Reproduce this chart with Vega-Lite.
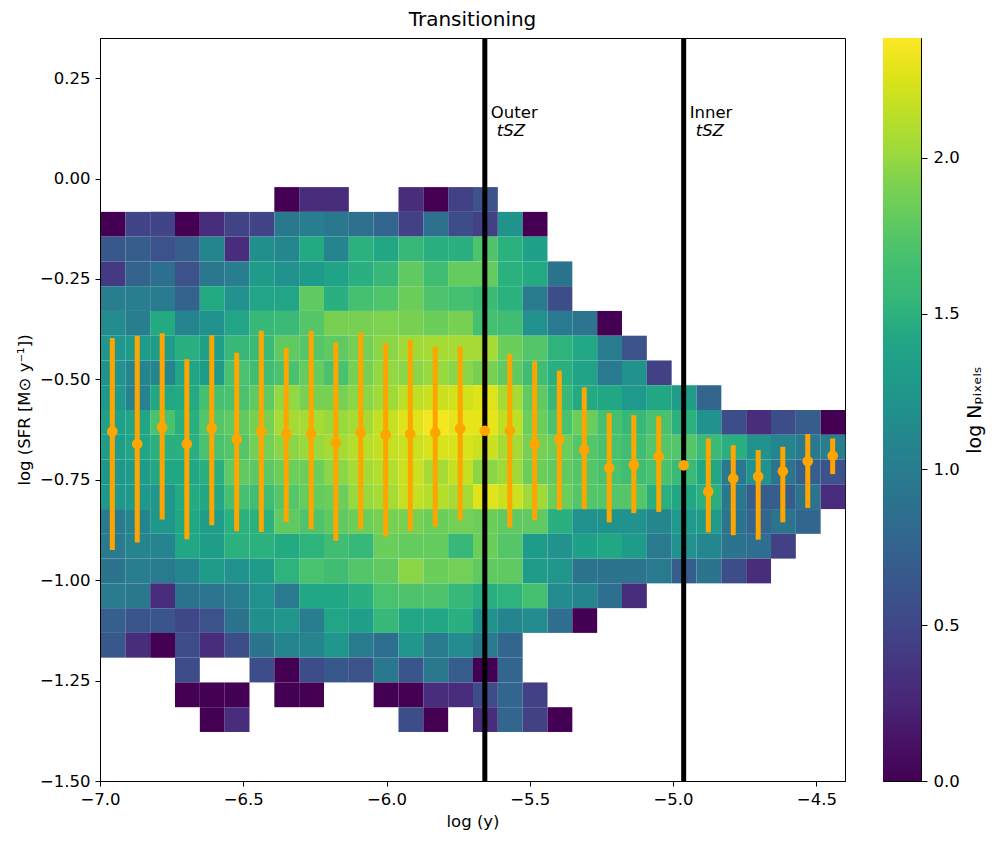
{
"$schema": "https://vega.github.io/schema/vega-lite/v6.json",
"padding": {"left": 15, "top": 9, "right": 5, "bottom": 5},
"config": {
 "font": "DejaVu Sans",
 "view": {"stroke": "black", "strokeWidth": 1},
 "axis": {"labelFont": "DejaVu Sans", "titleFont": "DejaVu Sans", "labelFontSize": 16.5, "titleFontSize": 16.5, "labelColor": "black", "titleColor": "black", "titleFontWeight": "normal", "tickColor": "black", "domainColor": "black", "tickSize": 5, "grid": false, "labelPadding": 5, "labelFlush": false},
 "title": {"font": "DejaVu Sans", "fontSize": 20, "fontWeight": "normal", "color": "black"}
},
"datasets": {
 "heat": [
{"ly":-6.350,"ls":-0.051,"v":0},{"ly":-6.263,"ls":-0.051,"v":0.3},{"ly":-6.177,"ls":-0.051,"v":0.3},{"ly":-5.917,"ls":-0.051,"v":0.3},{"ly":-5.830,"ls":-0.051,"v":0},{"ly":-5.743,"ls":-0.051,"v":0.45},{"ly":-5.657,"ls":-0.051,"v":0.6},
{"ly":-6.957,"ls":-0.113,"v":0},{"ly":-6.870,"ls":-0.113,"v":0.48},{"ly":-6.783,"ls":-0.113,"v":0.48},{"ly":-6.697,"ls":-0.113,"v":0},{"ly":-6.610,"ls":-0.113,"v":0.3},{"ly":-6.523,"ls":-0.113,"v":0.48},{"ly":-6.437,"ls":-0.113,"v":0.48},{"ly":-6.350,"ls":-0.113,"v":0.95},{"ly":-6.263,"ls":-0.113,"v":1.0},{"ly":-6.177,"ls":-0.113,"v":0.95},{"ly":-6.090,"ls":-0.113,"v":0.88},{"ly":-6.003,"ls":-0.113,"v":0.78},{"ly":-5.917,"ls":-0.113,"v":0.45},{"ly":-5.830,"ls":-0.113,"v":0.88},{"ly":-5.743,"ls":-0.113,"v":0.55},{"ly":-5.657,"ls":-0.113,"v":0.45},{"ly":-5.570,"ls":-0.113,"v":1.22},{"ly":-5.483,"ls":-0.113,"v":0},
{"ly":-6.957,"ls":-0.174,"v":0.65},{"ly":-6.870,"ls":-0.174,"v":0.7},{"ly":-6.783,"ls":-0.174,"v":0.6},{"ly":-6.697,"ls":-0.174,"v":0.7},{"ly":-6.610,"ls":-0.174,"v":1.08},{"ly":-6.523,"ls":-0.174,"v":0.3},{"ly":-6.437,"ls":-0.174,"v":1.18},{"ly":-6.350,"ls":-0.174,"v":1.1},{"ly":-6.263,"ls":-0.174,"v":1.45},{"ly":-6.177,"ls":-0.174,"v":1.08},{"ly":-6.090,"ls":-0.174,"v":1.52},{"ly":-6.003,"ls":-0.174,"v":1.42},{"ly":-5.917,"ls":-0.174,"v":1.6},{"ly":-5.830,"ls":-0.174,"v":1.5},{"ly":-5.743,"ls":-0.174,"v":1.5},{"ly":-5.657,"ls":-0.174,"v":1.72},{"ly":-5.570,"ls":-0.174,"v":1.52},{"ly":-5.483,"ls":-0.174,"v":1.35},
{"ly":-6.957,"ls":-0.236,"v":0.4},{"ly":-6.870,"ls":-0.236,"v":0.75},{"ly":-6.783,"ls":-0.236,"v":0.85},{"ly":-6.697,"ls":-0.236,"v":0.6},{"ly":-6.610,"ls":-0.236,"v":0.95},{"ly":-6.523,"ls":-0.236,"v":1.0},{"ly":-6.437,"ls":-0.236,"v":1.3},{"ly":-6.350,"ls":-0.236,"v":1.2},{"ly":-6.263,"ls":-0.236,"v":1.3},{"ly":-6.177,"ls":-0.236,"v":1.38},{"ly":-6.090,"ls":-0.236,"v":1.5},{"ly":-6.003,"ls":-0.236,"v":1.6},{"ly":-5.917,"ls":-0.236,"v":1.8},{"ly":-5.830,"ls":-0.236,"v":1.65},{"ly":-5.743,"ls":-0.236,"v":1.82},{"ly":-5.657,"ls":-0.236,"v":1.82},{"ly":-5.570,"ls":-0.236,"v":1.52},{"ly":-5.483,"ls":-0.236,"v":1.45},{"ly":-5.397,"ls":-0.236,"v":0.9},
{"ly":-6.957,"ls":-0.298,"v":1.0},{"ly":-6.870,"ls":-0.298,"v":1.0},{"ly":-6.783,"ls":-0.298,"v":0.97},{"ly":-6.697,"ls":-0.298,"v":0.75},{"ly":-6.610,"ls":-0.298,"v":1.45},{"ly":-6.523,"ls":-0.298,"v":1.2},{"ly":-6.437,"ls":-0.298,"v":1.4},{"ly":-6.350,"ls":-0.298,"v":1.4},{"ly":-6.263,"ls":-0.298,"v":1.8},{"ly":-6.177,"ls":-0.298,"v":1.5},{"ly":-6.090,"ls":-0.298,"v":1.68},{"ly":-6.003,"ls":-0.298,"v":1.73},{"ly":-5.917,"ls":-0.298,"v":1.85},{"ly":-5.830,"ls":-0.298,"v":1.72},{"ly":-5.743,"ls":-0.298,"v":1.68},{"ly":-5.657,"ls":-0.298,"v":1.63},{"ly":-5.570,"ls":-0.298,"v":1.52},{"ly":-5.483,"ls":-0.298,"v":0.97},{"ly":-5.397,"ls":-0.298,"v":0.55},
{"ly":-6.957,"ls":-0.359,"v":1.15},{"ly":-6.870,"ls":-0.359,"v":1.0},{"ly":-6.783,"ls":-0.359,"v":1.45},{"ly":-6.697,"ls":-0.359,"v":1.08},{"ly":-6.610,"ls":-0.359,"v":1.2},{"ly":-6.523,"ls":-0.359,"v":1.4},{"ly":-6.437,"ls":-0.359,"v":1.6},{"ly":-6.350,"ls":-0.359,"v":1.62},{"ly":-6.263,"ls":-0.359,"v":1.75},{"ly":-6.177,"ls":-0.359,"v":1.9},{"ly":-6.090,"ls":-0.359,"v":1.9},{"ly":-6.003,"ls":-0.359,"v":1.92},{"ly":-5.917,"ls":-0.359,"v":1.9},{"ly":-5.830,"ls":-0.359,"v":1.85},{"ly":-5.743,"ls":-0.359,"v":1.9},{"ly":-5.657,"ls":-0.359,"v":1.68},{"ly":-5.570,"ls":-0.359,"v":1.65},{"ly":-5.483,"ls":-0.359,"v":1.2},{"ly":-5.397,"ls":-0.359,"v":0.97},{"ly":-5.310,"ls":-0.359,"v":0.92},{"ly":-5.223,"ls":-0.359,"v":0},
{"ly":-6.957,"ls":-0.421,"v":1.25},{"ly":-6.870,"ls":-0.421,"v":1.3},{"ly":-6.783,"ls":-0.421,"v":1.3},{"ly":-6.697,"ls":-0.421,"v":1.5},{"ly":-6.610,"ls":-0.421,"v":1.35},{"ly":-6.523,"ls":-0.421,"v":1.6},{"ly":-6.437,"ls":-0.421,"v":1.62},{"ly":-6.350,"ls":-0.421,"v":1.8},{"ly":-6.263,"ls":-0.421,"v":1.75},{"ly":-6.177,"ls":-0.421,"v":1.8},{"ly":-6.090,"ls":-0.421,"v":1.88},{"ly":-6.003,"ls":-0.421,"v":1.97},{"ly":-5.917,"ls":-0.421,"v":2.05},{"ly":-5.830,"ls":-0.421,"v":2.07},{"ly":-5.743,"ls":-0.421,"v":2.07},{"ly":-5.657,"ls":-0.421,"v":2.07},{"ly":-5.570,"ls":-0.421,"v":1.85},{"ly":-5.483,"ls":-0.421,"v":1.75},{"ly":-5.397,"ls":-0.421,"v":1.55},{"ly":-5.310,"ls":-0.421,"v":1.43},{"ly":-5.223,"ls":-0.421,"v":1.0},{"ly":-5.137,"ls":-0.421,"v":0.6},
{"ly":-6.957,"ls":-0.483,"v":1.2},{"ly":-6.870,"ls":-0.483,"v":1.08},{"ly":-6.783,"ls":-0.483,"v":1.08},{"ly":-6.697,"ls":-0.483,"v":1.4},{"ly":-6.610,"ls":-0.483,"v":1.3},{"ly":-6.523,"ls":-0.483,"v":1.7},{"ly":-6.437,"ls":-0.483,"v":1.65},{"ly":-6.350,"ls":-0.483,"v":1.7},{"ly":-6.263,"ls":-0.483,"v":1.82},{"ly":-6.177,"ls":-0.483,"v":1.7},{"ly":-6.090,"ls":-0.483,"v":1.9},{"ly":-6.003,"ls":-0.483,"v":2.0},{"ly":-5.917,"ls":-0.483,"v":1.97},{"ly":-5.830,"ls":-0.483,"v":2.02},{"ly":-5.743,"ls":-0.483,"v":1.97},{"ly":-5.657,"ls":-0.483,"v":1.9},{"ly":-5.570,"ls":-0.483,"v":1.8},{"ly":-5.483,"ls":-0.483,"v":1.65},{"ly":-5.397,"ls":-0.483,"v":1.5},{"ly":-5.310,"ls":-0.483,"v":1.38},{"ly":-5.223,"ls":-0.483,"v":0.97},{"ly":-5.137,"ls":-0.483,"v":1.22},{"ly":-5.050,"ls":-0.483,"v":0.45},
{"ly":-6.957,"ls":-0.544,"v":1.28},{"ly":-6.870,"ls":-0.544,"v":1.05},{"ly":-6.783,"ls":-0.544,"v":1.42},{"ly":-6.697,"ls":-0.544,"v":1.45},{"ly":-6.610,"ls":-0.544,"v":1.68},{"ly":-6.523,"ls":-0.544,"v":1.7},{"ly":-6.437,"ls":-0.544,"v":1.8},{"ly":-6.350,"ls":-0.544,"v":2.0},{"ly":-6.263,"ls":-0.544,"v":1.9},{"ly":-6.177,"ls":-0.544,"v":1.9},{"ly":-6.090,"ls":-0.544,"v":1.97},{"ly":-6.003,"ls":-0.544,"v":2.05},{"ly":-5.917,"ls":-0.544,"v":2.15},{"ly":-5.830,"ls":-0.544,"v":2.2},{"ly":-5.743,"ls":-0.544,"v":2.22},{"ly":-5.657,"ls":-0.544,"v":2.27},{"ly":-5.570,"ls":-0.544,"v":2.07},{"ly":-5.483,"ls":-0.544,"v":1.8},{"ly":-5.397,"ls":-0.544,"v":1.6},{"ly":-5.310,"ls":-0.544,"v":1.45},{"ly":-5.223,"ls":-0.544,"v":1.42},{"ly":-5.137,"ls":-0.544,"v":1.28},{"ly":-5.050,"ls":-0.544,"v":1.42},{"ly":-4.963,"ls":-0.544,"v":1.32},{"ly":-4.877,"ls":-0.544,"v":0.78},
{"ly":-6.957,"ls":-0.606,"v":1.35},{"ly":-6.870,"ls":-0.606,"v":1.4},{"ly":-6.783,"ls":-0.606,"v":1.7},{"ly":-6.697,"ls":-0.606,"v":1.5},{"ly":-6.610,"ls":-0.606,"v":1.75},{"ly":-6.523,"ls":-0.606,"v":1.8},{"ly":-6.437,"ls":-0.606,"v":1.9},{"ly":-6.350,"ls":-0.606,"v":2.07},{"ly":-6.263,"ls":-0.606,"v":2.07},{"ly":-6.177,"ls":-0.606,"v":2.02},{"ly":-6.090,"ls":-0.606,"v":2.07},{"ly":-6.003,"ls":-0.606,"v":2.18},{"ly":-5.917,"ls":-0.606,"v":2.27},{"ly":-5.830,"ls":-0.606,"v":2.35},{"ly":-5.743,"ls":-0.606,"v":2.3},{"ly":-5.657,"ls":-0.606,"v":2.3},{"ly":-5.570,"ls":-0.606,"v":2.15},{"ly":-5.483,"ls":-0.606,"v":1.85},{"ly":-5.397,"ls":-0.606,"v":1.7},{"ly":-5.310,"ls":-0.606,"v":1.85},{"ly":-5.223,"ls":-0.606,"v":1.68},{"ly":-5.137,"ls":-0.606,"v":1.6},{"ly":-5.050,"ls":-0.606,"v":1.7},{"ly":-4.963,"ls":-0.606,"v":1.52},{"ly":-4.877,"ls":-0.606,"v":1.2},{"ly":-4.790,"ls":-0.606,"v":0.55},{"ly":-4.703,"ls":-0.606,"v":0.3},{"ly":-4.617,"ls":-0.606,"v":0.55},{"ly":-4.530,"ls":-0.606,"v":0.7},{"ly":-4.443,"ls":-0.606,"v":0},
{"ly":-6.957,"ls":-0.668,"v":1.32},{"ly":-6.870,"ls":-0.668,"v":1.4},{"ly":-6.783,"ls":-0.668,"v":1.5},{"ly":-6.697,"ls":-0.668,"v":1.5},{"ly":-6.610,"ls":-0.668,"v":1.7},{"ly":-6.523,"ls":-0.668,"v":1.75},{"ly":-6.437,"ls":-0.668,"v":1.88},{"ly":-6.350,"ls":-0.668,"v":1.97},{"ly":-6.263,"ls":-0.668,"v":2.02},{"ly":-6.177,"ls":-0.668,"v":2.07},{"ly":-6.090,"ls":-0.668,"v":2.13},{"ly":-6.003,"ls":-0.668,"v":2.18},{"ly":-5.917,"ls":-0.668,"v":2.2},{"ly":-5.830,"ls":-0.668,"v":2.25},{"ly":-5.743,"ls":-0.668,"v":2.25},{"ly":-5.657,"ls":-0.668,"v":2.2},{"ly":-5.570,"ls":-0.668,"v":2.07},{"ly":-5.483,"ls":-0.668,"v":1.9},{"ly":-5.397,"ls":-0.668,"v":1.85},{"ly":-5.310,"ls":-0.668,"v":1.75},{"ly":-5.223,"ls":-0.668,"v":1.7},{"ly":-5.137,"ls":-0.668,"v":1.65},{"ly":-5.050,"ls":-0.668,"v":1.75},{"ly":-4.963,"ls":-0.668,"v":1.75},{"ly":-4.877,"ls":-0.668,"v":1.62},{"ly":-4.790,"ls":-0.668,"v":1.5},{"ly":-4.703,"ls":-0.668,"v":1.2},{"ly":-4.617,"ls":-0.668,"v":1.08},{"ly":-4.530,"ls":-0.668,"v":0.97},{"ly":-4.443,"ls":-0.668,"v":1.0},
{"ly":-6.957,"ls":-0.729,"v":1.25},{"ly":-6.870,"ls":-0.729,"v":1.3},{"ly":-6.783,"ls":-0.729,"v":1.42},{"ly":-6.697,"ls":-0.729,"v":1.42},{"ly":-6.610,"ls":-0.729,"v":1.5},{"ly":-6.523,"ls":-0.729,"v":1.8},{"ly":-6.437,"ls":-0.729,"v":1.78},{"ly":-6.350,"ls":-0.729,"v":1.85},{"ly":-6.263,"ls":-0.729,"v":1.85},{"ly":-6.177,"ls":-0.729,"v":1.97},{"ly":-6.090,"ls":-0.729,"v":2.07},{"ly":-6.003,"ls":-0.729,"v":2.12},{"ly":-5.917,"ls":-0.729,"v":2.2},{"ly":-5.830,"ls":-0.729,"v":2.07},{"ly":-5.743,"ls":-0.729,"v":2.18},{"ly":-5.657,"ls":-0.729,"v":1.97},{"ly":-5.570,"ls":-0.729,"v":2.05},{"ly":-5.483,"ls":-0.729,"v":1.85},{"ly":-5.397,"ls":-0.729,"v":1.8},{"ly":-5.310,"ls":-0.729,"v":1.75},{"ly":-5.223,"ls":-0.729,"v":1.7},{"ly":-5.137,"ls":-0.729,"v":1.65},{"ly":-5.050,"ls":-0.729,"v":1.7},{"ly":-4.963,"ls":-0.729,"v":1.62},{"ly":-4.877,"ls":-0.729,"v":1.42},{"ly":-4.790,"ls":-0.729,"v":0.95},{"ly":-4.703,"ls":-0.729,"v":1.2},{"ly":-4.617,"ls":-0.729,"v":0.9},{"ly":-4.530,"ls":-0.729,"v":0.72},{"ly":-4.443,"ls":-0.729,"v":0.6},
{"ly":-6.957,"ls":-0.791,"v":1.27},{"ly":-6.870,"ls":-0.791,"v":1.28},{"ly":-6.783,"ls":-0.791,"v":1.25},{"ly":-6.697,"ls":-0.791,"v":1.45},{"ly":-6.610,"ls":-0.791,"v":1.42},{"ly":-6.523,"ls":-0.791,"v":1.68},{"ly":-6.437,"ls":-0.791,"v":1.65},{"ly":-6.350,"ls":-0.791,"v":1.75},{"ly":-6.263,"ls":-0.791,"v":1.82},{"ly":-6.177,"ls":-0.791,"v":1.85},{"ly":-6.090,"ls":-0.791,"v":2.02},{"ly":-6.003,"ls":-0.791,"v":2.07},{"ly":-5.917,"ls":-0.791,"v":2.18},{"ly":-5.830,"ls":-0.791,"v":2.12},{"ly":-5.743,"ls":-0.791,"v":2.07},{"ly":-5.657,"ls":-0.791,"v":2.27},{"ly":-5.570,"ls":-0.791,"v":2.2},{"ly":-5.483,"ls":-0.791,"v":2.05},{"ly":-5.397,"ls":-0.791,"v":1.85},{"ly":-5.310,"ls":-0.791,"v":1.75},{"ly":-5.223,"ls":-0.791,"v":1.75},{"ly":-5.137,"ls":-0.791,"v":1.75},{"ly":-5.050,"ls":-0.791,"v":1.5},{"ly":-4.963,"ls":-0.791,"v":1.42},{"ly":-4.877,"ls":-0.791,"v":1.5},{"ly":-4.790,"ls":-0.791,"v":0.95},{"ly":-4.703,"ls":-0.791,"v":0.7},{"ly":-4.617,"ls":-0.791,"v":0.7},{"ly":-4.530,"ls":-0.791,"v":0.9},{"ly":-4.443,"ls":-0.791,"v":0.3},
{"ly":-6.957,"ls":-0.853,"v":0.97},{"ly":-6.870,"ls":-0.853,"v":1.08},{"ly":-6.783,"ls":-0.853,"v":1.27},{"ly":-6.697,"ls":-0.853,"v":1.42},{"ly":-6.610,"ls":-0.853,"v":1.32},{"ly":-6.523,"ls":-0.853,"v":1.52},{"ly":-6.437,"ls":-0.853,"v":1.52},{"ly":-6.350,"ls":-0.853,"v":1.8},{"ly":-6.263,"ls":-0.853,"v":1.72},{"ly":-6.177,"ls":-0.853,"v":1.8},{"ly":-6.090,"ls":-0.853,"v":1.85},{"ly":-6.003,"ls":-0.853,"v":1.9},{"ly":-5.917,"ls":-0.853,"v":1.9},{"ly":-5.830,"ls":-0.853,"v":1.85},{"ly":-5.743,"ls":-0.853,"v":1.88},{"ly":-5.657,"ls":-0.853,"v":1.85},{"ly":-5.570,"ls":-0.853,"v":1.8},{"ly":-5.483,"ls":-0.853,"v":1.8},{"ly":-5.397,"ls":-0.853,"v":1.5},{"ly":-5.310,"ls":-0.853,"v":1.2},{"ly":-5.223,"ls":-0.853,"v":1.22},{"ly":-5.137,"ls":-0.853,"v":1.2},{"ly":-5.050,"ls":-0.853,"v":1.1},{"ly":-4.963,"ls":-0.853,"v":1.28},{"ly":-4.877,"ls":-0.853,"v":1.3},{"ly":-4.790,"ls":-0.853,"v":0.9},{"ly":-4.703,"ls":-0.853,"v":0.78},{"ly":-4.617,"ls":-0.853,"v":0.9},{"ly":-4.530,"ls":-0.853,"v":0.78},
{"ly":-6.957,"ls":-0.914,"v":0.97},{"ly":-6.870,"ls":-0.914,"v":1.07},{"ly":-6.783,"ls":-0.914,"v":1.07},{"ly":-6.697,"ls":-0.914,"v":1.42},{"ly":-6.610,"ls":-0.914,"v":1.32},{"ly":-6.523,"ls":-0.914,"v":1.52},{"ly":-6.437,"ls":-0.914,"v":1.52},{"ly":-6.350,"ls":-0.914,"v":1.45},{"ly":-6.263,"ls":-0.914,"v":1.55},{"ly":-6.177,"ls":-0.914,"v":1.65},{"ly":-6.090,"ls":-0.914,"v":1.6},{"ly":-6.003,"ls":-0.914,"v":1.85},{"ly":-5.917,"ls":-0.914,"v":1.82},{"ly":-5.830,"ls":-0.914,"v":1.82},{"ly":-5.743,"ls":-0.914,"v":1.6},{"ly":-5.657,"ls":-0.914,"v":1.85},{"ly":-5.570,"ls":-0.914,"v":1.75},{"ly":-5.483,"ls":-0.914,"v":1.3},{"ly":-5.397,"ls":-0.914,"v":1.2},{"ly":-5.310,"ls":-0.914,"v":1.35},{"ly":-5.223,"ls":-0.914,"v":1.42},{"ly":-5.137,"ls":-0.914,"v":1.3},{"ly":-5.050,"ls":-0.914,"v":0.97},{"ly":-4.963,"ls":-0.914,"v":1.2},{"ly":-4.877,"ls":-0.914,"v":1.1},{"ly":-4.790,"ls":-0.914,"v":0.9},{"ly":-4.703,"ls":-0.914,"v":0.85},{"ly":-4.617,"ls":-0.914,"v":0.45},
{"ly":-6.957,"ls":-0.976,"v":0.9},{"ly":-6.870,"ls":-0.976,"v":1.0},{"ly":-6.783,"ls":-0.976,"v":0.97},{"ly":-6.697,"ls":-0.976,"v":1.08},{"ly":-6.610,"ls":-0.976,"v":1.3},{"ly":-6.523,"ls":-0.976,"v":1.2},{"ly":-6.437,"ls":-0.976,"v":1.3},{"ly":-6.350,"ls":-0.976,"v":1.55},{"ly":-6.263,"ls":-0.976,"v":1.7},{"ly":-6.177,"ls":-0.976,"v":1.65},{"ly":-6.090,"ls":-0.976,"v":1.75},{"ly":-6.003,"ls":-0.976,"v":1.8},{"ly":-5.917,"ls":-0.976,"v":1.97},{"ly":-5.830,"ls":-0.976,"v":1.85},{"ly":-5.743,"ls":-0.976,"v":1.88},{"ly":-5.657,"ls":-0.976,"v":1.8},{"ly":-5.570,"ls":-0.976,"v":1.8},{"ly":-5.483,"ls":-0.976,"v":1.3},{"ly":-5.397,"ls":-0.976,"v":1.25},{"ly":-5.310,"ls":-0.976,"v":0.9},{"ly":-5.223,"ls":-0.976,"v":0.9},{"ly":-5.137,"ls":-0.976,"v":0.9},{"ly":-5.050,"ls":-0.976,"v":0.97},{"ly":-4.963,"ls":-0.976,"v":0.7},{"ly":-4.877,"ls":-0.976,"v":0.9},{"ly":-4.790,"ls":-0.976,"v":0.55},{"ly":-4.703,"ls":-0.976,"v":0.3},
{"ly":-6.957,"ls":-1.038,"v":0.97},{"ly":-6.870,"ls":-1.038,"v":0.95},{"ly":-6.783,"ls":-1.038,"v":0.3},{"ly":-6.697,"ls":-1.038,"v":0.9},{"ly":-6.610,"ls":-1.038,"v":0.92},{"ly":-6.523,"ls":-1.038,"v":1.0},{"ly":-6.437,"ls":-1.038,"v":1.2},{"ly":-6.350,"ls":-1.038,"v":0.97},{"ly":-6.263,"ls":-1.038,"v":1.42},{"ly":-6.177,"ls":-1.038,"v":1.42},{"ly":-6.090,"ls":-1.038,"v":1.5},{"ly":-6.003,"ls":-1.038,"v":1.7},{"ly":-5.917,"ls":-1.038,"v":1.72},{"ly":-5.830,"ls":-1.038,"v":1.72},{"ly":-5.743,"ls":-1.038,"v":1.6},{"ly":-5.657,"ls":-1.038,"v":1.5},{"ly":-5.570,"ls":-1.038,"v":1.55},{"ly":-5.483,"ls":-1.038,"v":1.68},{"ly":-5.397,"ls":-1.038,"v":1.15},{"ly":-5.310,"ls":-1.038,"v":1.08},{"ly":-5.223,"ls":-1.038,"v":0.85},{"ly":-5.137,"ls":-1.038,"v":0.3},
{"ly":-6.957,"ls":-1.099,"v":0.72},{"ly":-6.870,"ls":-1.099,"v":0.62},{"ly":-6.783,"ls":-1.099,"v":0.62},{"ly":-6.697,"ls":-1.099,"v":0.5},{"ly":-6.610,"ls":-1.099,"v":0.6},{"ly":-6.523,"ls":-1.099,"v":0.9},{"ly":-6.437,"ls":-1.099,"v":1.18},{"ly":-6.350,"ls":-1.099,"v":1.25},{"ly":-6.263,"ls":-1.099,"v":1.0},{"ly":-6.177,"ls":-1.099,"v":1.4},{"ly":-6.090,"ls":-1.099,"v":1.33},{"ly":-6.003,"ls":-1.099,"v":1.6},{"ly":-5.917,"ls":-1.099,"v":1.42},{"ly":-5.830,"ls":-1.099,"v":1.42},{"ly":-5.743,"ls":-1.099,"v":1.5},{"ly":-5.657,"ls":-1.099,"v":1.22},{"ly":-5.570,"ls":-1.099,"v":1.08},{"ly":-5.483,"ls":-1.099,"v":1.15},{"ly":-5.397,"ls":-1.099,"v":0.85},{"ly":-5.310,"ls":-1.099,"v":0},
{"ly":-6.957,"ls":-1.161,"v":0.65},{"ly":-6.870,"ls":-1.161,"v":0.3},{"ly":-6.783,"ls":-1.161,"v":0},{"ly":-6.697,"ls":-1.161,"v":0.55},{"ly":-6.610,"ls":-1.161,"v":0.3},{"ly":-6.523,"ls":-1.161,"v":0.55},{"ly":-6.437,"ls":-1.161,"v":0.9},{"ly":-6.350,"ls":-1.161,"v":1.08},{"ly":-6.263,"ls":-1.161,"v":1.08},{"ly":-6.177,"ls":-1.161,"v":1.25},{"ly":-6.090,"ls":-1.161,"v":0.97},{"ly":-6.003,"ls":-1.161,"v":0.85},{"ly":-5.917,"ls":-1.161,"v":1.25},{"ly":-5.830,"ls":-1.161,"v":0.97},{"ly":-5.743,"ls":-1.161,"v":1.15},{"ly":-5.657,"ls":-1.161,"v":0.97},{"ly":-5.570,"ls":-1.161,"v":0.78},
{"ly":-6.697,"ls":-1.223,"v":0.55},{"ly":-6.437,"ls":-1.223,"v":0.55},{"ly":-6.350,"ls":-1.223,"v":0},{"ly":-6.263,"ls":-1.223,"v":0.55},{"ly":-6.177,"ls":-1.223,"v":0.65},{"ly":-6.090,"ls":-1.223,"v":0.6},{"ly":-6.003,"ls":-1.223,"v":0.95},{"ly":-5.917,"ls":-1.223,"v":0.62},{"ly":-5.830,"ls":-1.223,"v":0.95},{"ly":-5.743,"ls":-1.223,"v":0.7},{"ly":-5.657,"ls":-1.223,"v":0},{"ly":-5.570,"ls":-1.223,"v":0.78},
{"ly":-6.697,"ls":-1.284,"v":0},{"ly":-6.610,"ls":-1.284,"v":0},{"ly":-6.523,"ls":-1.284,"v":0},{"ly":-6.350,"ls":-1.284,"v":0},{"ly":-6.263,"ls":-1.284,"v":0},{"ly":-6.003,"ls":-1.284,"v":0},{"ly":-5.917,"ls":-1.284,"v":0},{"ly":-5.830,"ls":-1.284,"v":0.3},{"ly":-5.743,"ls":-1.284,"v":0.3},{"ly":-5.657,"ls":-1.284,"v":0.55},{"ly":-5.570,"ls":-1.284,"v":0.78},{"ly":-5.483,"ls":-1.284,"v":0.45},
{"ly":-6.610,"ls":-1.346,"v":0},{"ly":-6.523,"ls":-1.346,"v":0.3},{"ly":-5.917,"ls":-1.346,"v":0.55},{"ly":-5.830,"ls":-1.346,"v":0},{"ly":-5.657,"ls":-1.346,"v":0.3},{"ly":-5.570,"ls":-1.346,"v":0.78},{"ly":-5.483,"ls":-1.346,"v":0.45},{"ly":-5.397,"ls":-1.346,"v":0}
 ],
 "bars": [
{"ly":-6.957,"ls":-0.630,"lo":-0.925,"hi":-0.397},{"ly":-6.870,"ls":-0.661,"lo":-0.906,"hi":-0.392},{"ly":-6.783,"ls":-0.619,"lo":-0.849,"hi":-0.385},{"ly":-6.697,"ls":-0.661,"lo":-0.898,"hi":-0.450},{"ly":-6.610,"ls":-0.622,"lo":-0.863,"hi":-0.390},{"ly":-6.523,"ls":-0.649,"lo":-0.878,"hi":-0.434},{"ly":-6.437,"ls":-0.630,"lo":-0.880,"hi":-0.379},{"ly":-6.350,"ls":-0.636,"lo":-0.855,"hi":-0.421},{"ly":-6.263,"ls":-0.636,"lo":-0.873,"hi":-0.379},{"ly":-6.177,"ls":-0.657,"lo":-0.902,"hi":-0.408},{"ly":-6.090,"ls":-0.632,"lo":-0.873,"hi":-0.383},{"ly":-6.003,"ls":-0.638,"lo":-0.891,"hi":-0.410},{"ly":-5.917,"ls":-0.636,"lo":-0.876,"hi":-0.402},{"ly":-5.830,"ls":-0.632,"lo":-0.867,"hi":-0.419},{"ly":-5.743,"ls":-0.622,"lo":-0.851,"hi":-0.418},{"ly":-5.657,"ls":-0.628,"lo":-0.835,"hi":-0.430},{"ly":-5.570,"ls":-0.628,"lo":-0.869,"hi":-0.437},{"ly":-5.483,"ls":-0.661,"lo":-0.851,"hi":-0.455},{"ly":-5.397,"ls":-0.649,"lo":-0.825,"hi":-0.478},{"ly":-5.310,"ls":-0.675,"lo":-0.823,"hi":-0.520},{"ly":-5.223,"ls":-0.721,"lo":-0.856,"hi":-0.584},{"ly":-5.137,"ls":-0.713,"lo":-0.833,"hi":-0.589},{"ly":-5.050,"ls":-0.692,"lo":-0.830,"hi":-0.592},{"ly":-4.963,"ls":-0.714,"lo":-0.720,"hi":-0.708},{"ly":-4.877,"ls":-0.779,"lo":-0.881,"hi":-0.647},{"ly":-4.790,"ls":-0.747,"lo":-0.888,"hi":-0.664},{"ly":-4.703,"ls":-0.742,"lo":-0.899,"hi":-0.676},{"ly":-4.617,"ls":-0.729,"lo":-0.856,"hi":-0.668},{"ly":-4.530,"ls":-0.704,"lo":-0.820,"hi":-0.636},{"ly":-4.443,"ls":-0.690,"lo":-0.736,"hi":-0.647}
 ],
 "lines": [{"ly": -5.657, "name": "Outer"}, {"ly": -4.963, "name": "Inner"}],
 "cbar": [{"lo": 0, "hi": 2.385}]
},
"spacing": 35,
"hconcat": [
 {
  "width": 745, "height": 743,
  "title": {"text": "Transitioning", "offset": 6},
  "layer": [
   {"data": {"name": "heat"}, "mark": {"type": "rect"},
    "encoding": {
     "x": {"field": "ly", "type": "quantitative", "bin": {"extent": [-7, -4.4], "step": 0.0866666667, "nice": false},
           "scale": {"domain": [-7, -4.4], "nice": false, "zero": false},
           "axis": {"values": [-7, -6.5, -6, -5.5, -5, -4.5], "format": ".1f", "titlePadding": 6, "labelFlush": false},
           "title": "log (y)"},
     "y": {"field": "ls", "type": "quantitative", "bin": {"extent": [-1.5, 0.35], "step": 0.0616666667, "nice": false},
           "scale": {"domain": [-1.5, 0.35], "nice": false, "zero": false},
           "axis": {"values": [-1.5, -1.25, -1, -0.75, -0.5, -0.25, 0, 0.25], "format": ".2f", "titlePadding": 7},
           "title": "log (SFR [M⊙ y⁻¹])"},
     "color": {"field": "v", "type": "quantitative", "scale": {"scheme": "viridis", "domain": [0, 2.385]}, "legend": null}
    }},
   {"data": {"name": "bars"}, "mark": {"type": "rule", "color": "#ffa500", "strokeWidth": 5},
    "encoding": {
     "x": {"field": "ly", "type": "quantitative", "title": "log (y)"},
     "y": {"field": "lo", "type": "quantitative", "title": "log (SFR [M⊙ y⁻¹])"},
     "y2": {"field": "hi"}
    }},
   {"data": {"name": "lines"}, "mark": {"type": "rule", "color": "black", "strokeWidth": 5},
    "encoding": {"x": {"field": "ly", "type": "quantitative", "title": "log (y)"}}},
   {"data": {"name": "bars"}, "mark": {"type": "point", "filled": true, "shape": "circle", "color": "#ffa500", "opacity": 1, "size": 113},
    "encoding": {
     "x": {"field": "ly", "type": "quantitative", "title": "log (y)"},
     "y": {"field": "ls", "type": "quantitative", "title": "log (SFR [M⊙ y⁻¹])"}
    }},
   {"data": {"name": "lines"}, "mark": {"type": "text", "align": "left", "baseline": "middle", "dx": 6, "fontSize": 16.5, "font": "DejaVu Sans", "color": "black"},
    "encoding": {
     "x": {"field": "ly", "type": "quantitative", "title": "log (y)"},
     "y": {"datum": 0.1626, "title": "log (SFR [M⊙ y⁻¹])"},
     "text": {"field": "name"}
    }},
   {"data": {"name": "lines"}, "mark": {"type": "text", "align": "left", "baseline": "middle", "dx": 12, "fontSize": 16.5, "font": "DejaVu Sans", "fontStyle": "italic", "color": "black"},
    "encoding": {
     "x": {"field": "ly", "type": "quantitative", "title": "log (y)"},
     "y": {"datum": 0.1178, "title": "log (SFR [M⊙ y⁻¹])"},
     "text": {"value": "tSZ"}
    }}
  ]
 },
 {
  "width": 38, "height": 743,
  "data": {"name": "cbar"},
  "mark": {"type": "rect", "fill": {"gradient": "linear", "x1": 0, "y1": 1, "x2": 0, "y2": 0,
    "stops": [
     {"offset": 0.0, "color": "#440154"}, {"offset": 0.05, "color": "#471164"}, {"offset": 0.1, "color": "#482475"},
     {"offset": 0.15, "color": "#46337f"}, {"offset": 0.2, "color": "#414487"}, {"offset": 0.25, "color": "#3b528b"},
     {"offset": 0.3, "color": "#355f8d"}, {"offset": 0.35, "color": "#2f6c8e"}, {"offset": 0.4, "color": "#2a788e"},
     {"offset": 0.45, "color": "#25848e"}, {"offset": 0.5, "color": "#21918c"}, {"offset": 0.55, "color": "#1e9c89"},
     {"offset": 0.6, "color": "#22a884"}, {"offset": 0.65, "color": "#35b779"}, {"offset": 0.7, "color": "#44bf70"},
     {"offset": 0.75, "color": "#5ec962"}, {"offset": 0.8, "color": "#7ad151"}, {"offset": 0.85, "color": "#9fda3a"},
     {"offset": 0.9, "color": "#bddf26"}, {"offset": 0.95, "color": "#dfe318"}, {"offset": 1.0, "color": "#fde725"}
    ]}},
  "encoding": {
   "y": {"field": "lo", "type": "quantitative", "scale": {"domain": [0, 2.385], "nice": false, "zero": false},
         "axis": {"orient": "right", "values": [0, 0.5, 1, 1.5, 2], "format": ".1f", "tickSize": 6, "labelPadding": 6,
                  "title": "log Nₚᵢₓₑₗₛ", "titleFontSize": 19, "titleAngle": 270, "titleBaseline": "top", "titlePadding": 6}},
   "y2": {"field": "hi"}
  }
 }
]
}
